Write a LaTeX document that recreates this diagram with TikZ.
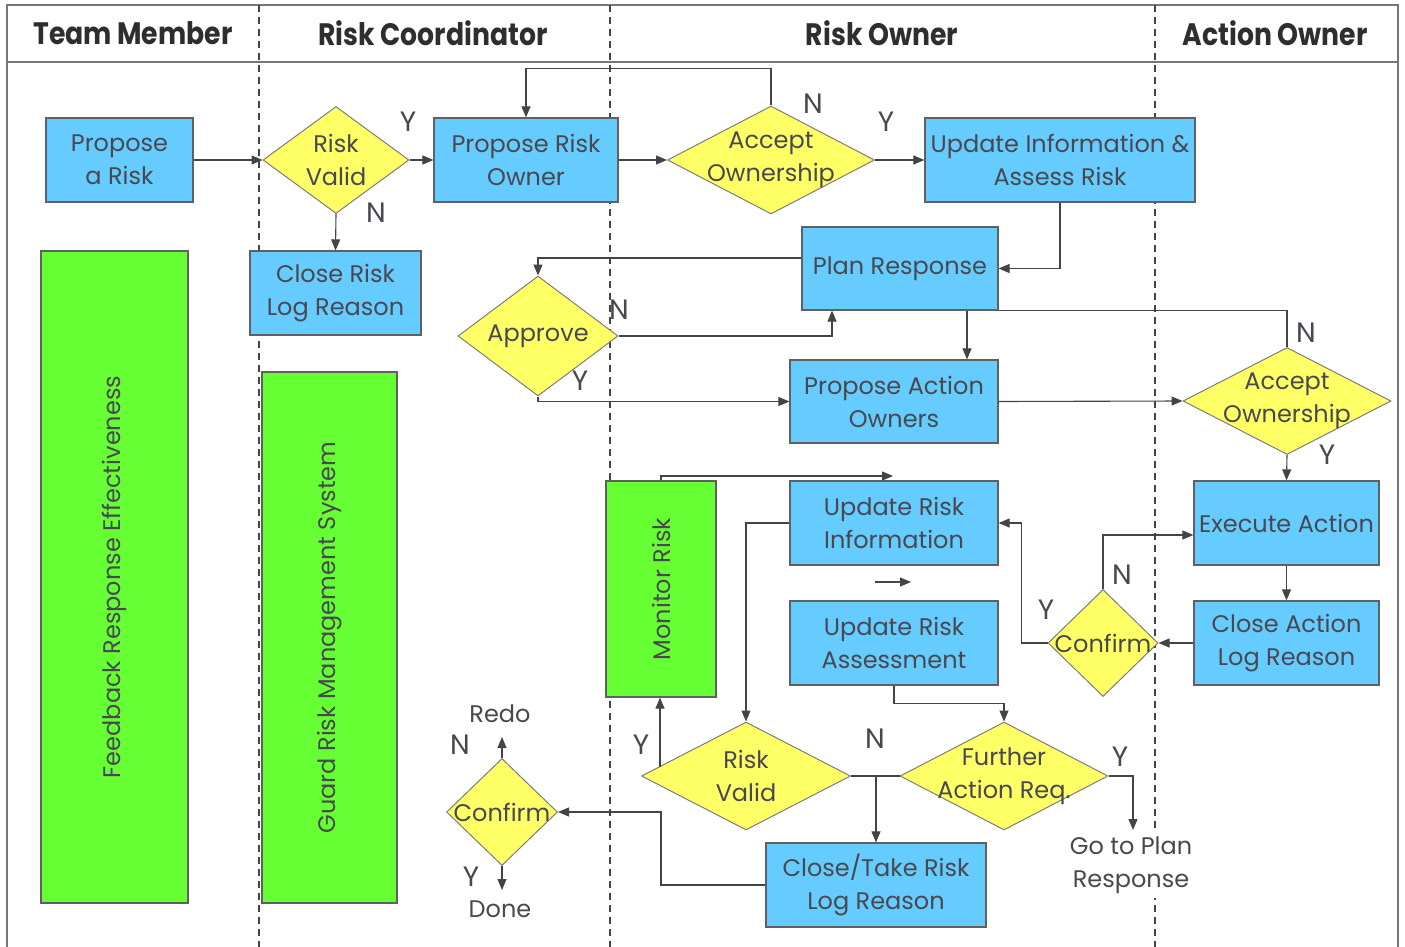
\documentclass[tikz,border=0pt]{standalone}
\usepackage{fontspec}
\setmainfont{Poppins}
\newfontfamily\headfont[FakeStretch=0.86]{Poppins}
\usetikzlibrary{shapes.geometric,arrows.meta}
\definecolor{boxblue}{HTML}{66CCFF}
\definecolor{dyellow}{HTML}{FFFF66}
\definecolor{lgreen}{HTML}{66FF33}
\definecolor{txt}{HTML}{48484F}
\definecolor{ln}{HTML}{444444}
\definecolor{frm}{HTML}{777777}
\begin{document}
\begin{tikzpicture}[x=1pt,y=-1pt,
 box/.style={draw=ln!85, line width=1.2pt, fill=boxblue, inner sep=0pt, align=center, text=txt, font=\fontsize{24}{33}\selectfont},
 gbox/.style={draw=ln!85, line width=1.2pt, fill=lgreen, inner sep=0pt, text=txt, font=\fontsize{24}{33}\selectfont},
 dia/.style={diamond, draw=ln!70, line width=1pt, fill=dyellow, inner sep=0pt},
 lbl/.style={text=txt, align=center, font=\fontsize{24}{33}\selectfont, inner sep=0pt},
 yn/.style={text=txt, font=\fontsize{28}{28}\selectfont, inner sep=0pt},
 hd/.style={text=black!82, font=\headfont\bfseries\fontsize{31}{31}\selectfont, inner sep=0pt},
 conn/.style={draw=ln, line width=1.1pt, -{Triangle[length=11pt,width=9pt]}},
 plainc/.style={draw=ln, line width=1.1pt},
 lane/.style={draw=ln, line width=1.3pt, dash pattern=on 7pt off 5pt},
]
\useasboundingbox[fill=white] (0,0) rectangle (1405,947);
% frame
\draw[frm, line width=2pt] (7,947) -- (7,5) -- (1398,5) -- (1398,947);
\draw[frm, line width=2pt] (7,62) -- (1398,62);
\draw[lane] (259,5) -- (259,947);
\draw[lane] (610,5) -- (610,947);
\draw[lane] (1155,5) -- (1155,947);
% headers
\node[hd] (h1) at (133,33) {Team Member};
\node[hd] (h2) at (433,33) {Risk Coordinator};
\node[hd] (h3) at (882,33) {Risk Owner};
\node[hd] (h4) at (1275,33) {Action Owner};
% green boxes
\node[gbox, minimum width=147pt, minimum height=652pt] (fb) at (114.5,577) {};
\node[lbl, rotate=90] at (fb) {Feedback Response Effectiveness};
\node[gbox, minimum width=135pt, minimum height=531pt] (gr) at (329.5,637.5) {};
\node[lbl, rotate=90] at (gr) {Guard Risk Management System};
\node[gbox, minimum width=110pt, minimum height=216pt] (mon) at (661,589) {};
\node[lbl, rotate=90] at (mon) {Monitor Risk};
% blue boxes
\node[box, minimum width=147pt, minimum height=84pt] (pr) at (119.5,160) {Propose\\a Risk};
\node[box, minimum width=184pt, minimum height=84pt] (pro) at (526,160) {Propose Risk\\Owner};
\node[box, minimum width=270pt, minimum height=84pt] (uia) at (1060,160) {Update Information \&\\Assess Risk};
\node[box, minimum width=171pt, minimum height=84pt] (cr) at (335.5,293) {Close Risk\\Log Reason};
\node[box, minimum width=196pt, minimum height=83pt] (plan) at (900,268.5) {Plan Response};
\node[box, minimum width=208pt, minimum height=83pt] (pao) at (894,401.5) {Propose Action\\Owners};
\node[box, minimum width=208pt, minimum height=84pt] (uri) at (894,523) {Update Risk\\Information};
\node[box, minimum width=208pt, minimum height=84pt] (ura) at (894,643) {Update Risk\\Assessment};
\node[box, minimum width=185pt, minimum height=84pt] (ea) at (1286.5,523) {Execute Action};
\node[box, minimum width=185pt, minimum height=84pt] (ca) at (1286.5,643) {Close Action\\Log Reason};
\node[box, minimum width=220pt, minimum height=84pt] (ct) at (876,885) {Close/Take Risk\\Log Reason};
% diamonds
\node[dia, minimum width=146pt, minimum height=107pt] (rv1) at (336,160) {};
\node[lbl] at (rv1) {Risk\\Valid};
\node[dia, minimum width=207pt, minimum height=108pt] (ao1) at (771,160) {};
\node[lbl] at (ao1) {Accept\\Ownership};
\node[dia, minimum width=160pt, minimum height=120pt] (ap) at (538,336) {};
\node[lbl] at (ap) {Approve};
\node[dia, minimum width=208pt, minimum height=107pt] (ao2) at (1287,401) {};
\node[lbl] at (ao2) {Accept\\Ownership};
\node[dia, minimum width=110pt, minimum height=107pt] (cf1) at (1103,643) {};
\node[lbl] at (cf1) {Confirm};
\node[dia, minimum width=209pt, minimum height=108pt] (rv2) at (746,776) {};
\node[lbl] at (rv2) {Risk\\Valid};
\node[dia, minimum width=208pt, minimum height=108pt] (fa) at (1004,776) {};
\node[lbl] at (fa) {Further\\Action Req.};
\node[dia, minimum width=111pt, minimum height=107pt] (cf2) at (502,812) {};
\node[lbl] at (cf2) {Confirm};
% free texts
\node[lbl] (redo) at (500,714) {Redo};
\node[lbl] (done) at (500,909) {Done};
\node[lbl, fill=white, inner ysep=4pt] (gtp) at (1131,865) {Go to Plan\\Response};
% coordinates
\coordinate (mtop) at (893,476);
\coordinate (sa1) at (875,582);
\coordinate (sa2) at (911,582);
\coordinate (rvy) at (660,767);
\coordinate (rvn) at (876,776);
\coordinate (gtpa) at (1133,830);
\coordinate (ctb) at (661,885);
\coordinate (redoa) at (502,737);
\coordinate (donea) at (502,890);
% connectors
\draw[conn] (pr.east) -- (rv1.west);
\draw[conn] (rv1.east) -- (pro.west);
\draw[conn] (rv1.south) -- (cr.north);
\draw[conn] (pro.east) -- (ao1.west);
\draw[conn] (ao1.north) -- ++(0,-37) -| (pro.north);
\draw[conn] (ao1.east) -- (uia.west);
\draw[conn] (uia.south) |- (plan.east);
\draw[conn] ([yshift=10.5pt]plan.west) -| (ap.north);
\draw[conn] (ap.east) -| ([xshift=-68pt]plan.south);
\draw[conn] (ap.south) |- (pao.west);
\draw[conn] ([xshift=67pt]plan.south) -- ([xshift=67pt]plan.south |- pao.north);
\draw[plainc] (ao2.north) |- (plan.south east);
\draw[conn] (pao.east) -- (ao2.west);
\draw[conn] (ao2.south) -- (ea.north);
\draw[conn] (ea.south) -- (ca.north);
\draw[conn] (ca.west) -- (cf1.east);
\draw[conn] (cf1.north) |- ([yshift=-12pt]ea.west);
\draw[conn] (cf1.west) -- ++(-26,0) |- (uri.east);
\draw[conn] (mon.north) |- (mtop);
\draw[conn] (sa1) -- (sa2);
\draw[conn] (uri.west) -| (rv2.north);
\draw[conn] (ura.south) -- ++(0,18) -| (fa.north);
\draw[conn] (rvy) -- (mon.south -| rvy);
\draw[plainc] (rv2.east) -- (fa.west);
\draw[conn] (rvn) -- (ct.north);
\draw[conn] (fa.east) -| (gtpa);
\draw[conn] (ct.west) -- (ctb) |- (cf2.east);
\draw[conn] (cf2.north) -- (redoa);
\draw[conn] (cf2.south) -- (donea);
% Y/N labels
\node[yn] at (408,122) {Y};
\node[yn] at (376,213) {N};
\node[yn] at (813,104) {N};
\node[yn] at (886,122) {Y};
\node[yn] at (619,310) {N};
\node[yn] at (580,381) {Y};
\node[yn] at (1306,333) {N};
\node[yn] at (1327,455) {Y};
\node[yn] at (1122,575) {N};
\node[yn] at (1046,610) {Y};
\node[yn] at (641,745) {Y};
\node[yn] at (875,739) {N};
\node[yn] at (1120,757) {Y};
\node[yn] at (460,745) {N};
\node[yn] at (471,877) {Y};
\end{tikzpicture}
\end{document}
